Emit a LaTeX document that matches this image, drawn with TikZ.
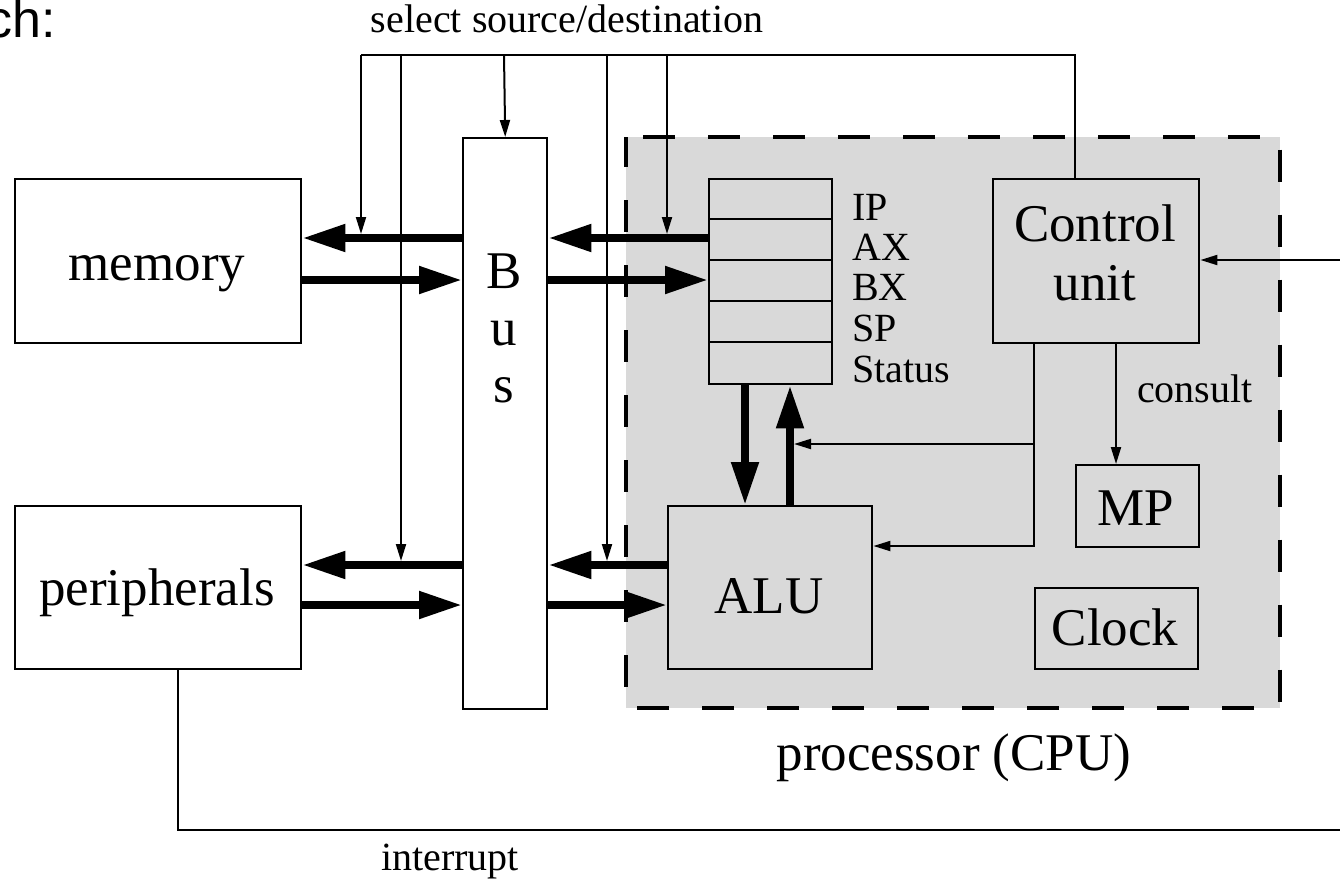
\documentclass[tikz,border=0pt]{standalone}
\usepackage{fontspec}
\setmainfont{Liberation Serif}
\newfontfamily\hsans{Liberation Sans}
\usetikzlibrary{arrows.meta}
\definecolor{cpugray}{gray}{0.85}
\begin{document}
\begin{tikzpicture}[x=1pt,y=-1pt,
  box/.style={draw, line width=2.4pt, inner sep=0pt, anchor=north west},
  big/.style={line width=8pt, -{Triangle[length=43pt,width=26pt]}},
  thin/.style={line width=2pt},
  thinarr/.style={line width=2pt, -{Triangle[length=17pt,width=10pt]}},
  lab/.style={anchor=base, inner sep=0pt, font=\fontsize{53}{60}\selectfont},
  slab/.style={anchor=base, inner sep=0pt, font=\fontsize{40}{46}\selectfont},
  rlab/.style={anchor=base west, inner sep=0pt, font=\fontsize{40}{46}\selectfont},
  cpuborder/.style={line width=4pt, dash pattern=on 32pt off 33pt, dash phase=48pt}
]
\useasboundingbox[fill=white] (0,0) rectangle (1340,881);

% processor area
\node[anchor=north west, inner sep=0pt, minimum width=654pt, minimum height=571pt, fill=cpugray] (cpu) at (626,137) {};
\draw[cpuborder] (cpu.north west) -- (cpu.north east) -- (cpu.south east) -- (cpu.south west) -- cycle;

% boxes
\node[box, minimum width=286pt, minimum height=164pt] (mem) at (14,178) {};
\node[box, minimum width=286pt, minimum height=163pt] (per) at (14,505) {};
\node[box, fill=white, minimum width=84pt, minimum height=571pt] (bus) at (462,137) {};
\node[box, minimum width=123pt, minimum height=205pt] (reg) at (708,178) {};
\node[box, minimum width=206pt, minimum height=164pt] (cu) at (992,178) {};
\node[box, minimum width=123pt, minimum height=82pt] (mp) at (1075,464) {};
\node[box, minimum width=163pt, minimum height=81pt] (clk) at (1034,587) {};
\node[box, minimum width=204pt, minimum height=163pt] (alu) at (667,505) {};

% register rows
\foreach \y in {219,260,301,342} {
  \coordinate (rowy) at (0,\y);
  \draw[line width=2pt] (reg.west |- rowy) -- (reg.east |- rowy);
}

% texts
\node[anchor=base west, inner sep=0pt, font=\hsans\fontsize{52}{60}\selectfont] (ch) at (-14,37) {ch:};
\node[slab] (sel) at (567,32) {select source/destination};
\node[lab] (tmem) at (157,280) {memory};
\node[lab] (tper) at (157,605) {peripherals};
\node[lab] (tb) at (504,288) {B};
\node[lab] (tu) at (504,345) {u};
\node[lab] (ts) at (504,402) {s};
\node[lab] (tcu1) at (1095,241) {Control};
\node[lab] (tcu2) at (1095,300) {unit};
\node[lab] (talu) at (769,613) {ALU};
\node[lab] (tmp) at (1136,525) {MP};
\node[lab] (tclk) at (1115,645) {Clock};
\node[lab] (tcpu) at (954,770) {processor (CPU)};
\node[rlab] (tip) at (852,220) {IP};
\node[rlab] (tax) at (852,260) {AX};
\node[rlab] (tbx) at (852,300) {BX};
\node[rlab] (tsp) at (852,341) {SP};
\node[rlab] (tst) at (852,382) {Status};
\node[rlab] (tcons) at (1137,402) {consult};
\node[slab] (tint) at (450,870) {interrupt};

% row / column coordinates
\coordinate (r1) at (0,238);
\coordinate (r1t) at (0,234);
\coordinate (r2) at (0,280);
\coordinate (r3) at (0,565);
\coordinate (r3t) at (0,561);
\coordinate (r4) at (0,605);
\coordinate (r5) at (0,546);
\coordinate (r6) at (0,444);
\coordinate (c1) at (745,0);
\coordinate (c2) at (790,0);
\coordinate (c2r) at (794,0);

% thick data arrows
\draw[big] (bus.west |- r1) -- (mem.east |- r1);
\draw[big] (mem.east |- r2) -- (bus.west |- r2);
\draw[big] (reg.west |- r1) -- (bus.east |- r1);
\draw[big] (bus.east |- r2) -- (reg.west |- r2);
\draw[big] (bus.west |- r3) -- (per.east |- r3);
\draw[big] (per.east |- r4) -- (bus.west |- r4);
\draw[big] (alu.west |- r3) -- (bus.east |- r3);
\draw[big] (bus.east |- r4) -- (alu.west |- r4);
\draw[big] (reg.south -| c1) -- (alu.north -| c1);
\draw[big] (alu.north -| c2) -- (reg.south -| c2);

% select lines
\coordinate (v1) at (361,55);
\coordinate (v2) at (401,55);
\coordinate (v3) at (504,55);
\coordinate (v4) at (607,55);
\coordinate (v5) at (667,55);
\coordinate (v6) at (1075,55);
\draw[thin] (v1) -- (v6) -- (cu.north -| v6);
\draw[thinarr] (v1) -- (v1 |- r1t);
\draw[thinarr] (v2) -- (v2 |- r3t);
\draw[thinarr] (v3) -- (bus.north);
\draw[thinarr] (v4) -- (v4 |- r3t);
\draw[thinarr] (v5) -- (v5 |- r1t);

% control unit outputs
\coordinate (k1) at (1034,0);
\coordinate (k2) at (1116,0);
\draw[thinarr] (cu.south -| k1) -- (k1 |- r5) -- (alu.east |- r5);
\draw[thinarr] (k1 |- r6) -- (c2r |- r6);
\draw[thinarr] (cu.south -| k2) -- (mp.north -| k2);

% external input
\coordinate (rin) at (1345,260);
\draw[thinarr] (rin) -- (cu.east |- rin);

% interrupt line
\coordinate (ib) at (178,830);
\coordinate (ie) at (1345,830);
\draw[thin] (per.south -| ib) -- (ib) -- (ie);
\end{tikzpicture}
\end{document}
